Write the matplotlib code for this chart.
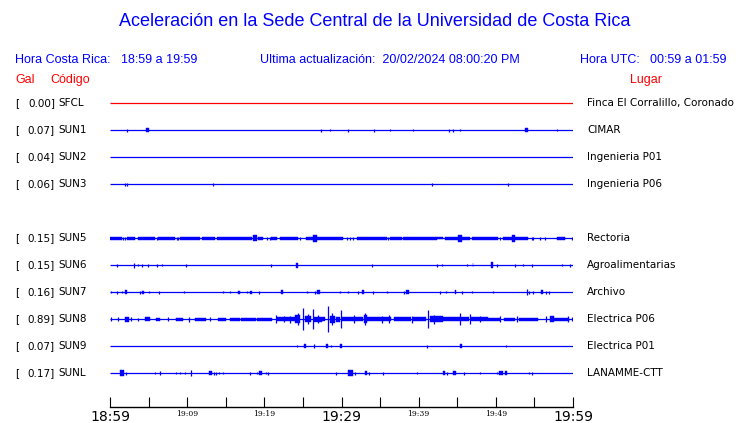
import matplotlib.pyplot as plt

# estaciones (fila 4 = SUN4, sin dato)
codigos = ["SFCL", "SUN1", "SUN2", "SUN3", "SUN5", "SUN6", "SUN7", "SUN8", "SUN9", "SUNL"]
gal = [0.00, 0.07, 0.04, 0.06, 0.15, 0.15, 0.16, 0.89, 0.07, 0.17]
lugares = ["Finca El Corralillo, Coronado", "CIMAR", "Ingenieria P01", "Ingenieria P06",
           "Rectoria", "Agroalimentarias", "Archivo", "Electrica P06", "Electrica P01",
           "LANAMME-CTT"]
fila = [0, 1, 2, 3, 5, 6, 7, 8, 9, 10]
colores = ["red"] + ["blue"] * 9

# minutos desde 18:59 y marcas de hora
minutos_ticks = list(range(0, 61, 5))
etiquetas_hora = {0: "18:59", 10: "19:09", 20: "19:19", 30: "19:29",
                  40: "19:39", 50: "19:49", 60: "19:59"}
horas_grandes = [0, 30, 60]

ev_sfcl = []
ev_sun1 = [(2.2, 2.2, 1.5), (4.7, 5.0, 2), (27.3, 27.3, 1.5), (28.5, 28.5, 1), (30.8, 30.8, 1.5),
           (34.2, 34.2, 1.5), (36.3, 36.3, 1), (39.3, 39.3, 1), (43.9, 43.9, 1.5), (44.4, 44.4, 1.5),
           (45.4, 45.4, 1), (53.8, 54.2, 2), (57.9, 57.9, 1)]
ev_sun2 = []
ev_sun3 = [(1.9, 1.9, 1.5), (2.2, 2.2, 1.5), (13.3, 13.3, 1.5), (41.7, 41.7, 1.5), (51.6, 51.6, 1.5)]
ev_sun5 = [(0.0, 1.5, 1.5), (1.7, 1.7, 1.5), (1.9, 1.9, 1.5), (2.2, 3.2, 1.5), (3.6, 5.8, 1.5),
           (6.1, 6.1, 1.5), (6.2, 8.4, 1.5), (8.7, 8.7, 1.5), (8.8, 8.8, 1.5), (9.1, 11.7, 1.5),
           (11.9, 13.6, 1.5), (13.9, 18.4, 1.5), (18.5, 19.0, 3), (19.2, 19.8, 1.5), (20.3, 20.3, 1.5),
           (20.7, 20.7, 1.5), (20.9, 21.6, 1.5), (22.0, 24.4, 1.5), (24.6, 24.6, 1.5), (25.4, 26.3, 1.5),
           (26.3, 26.8, 3.5), (26.8, 30.2, 1.5), (30.7, 30.7, 1.5), (31.1, 31.1, 1.5), (31.5, 31.5, 1.5),
           (32.0, 35.9, 1.5), (36.0, 36.0, 1.5), (36.3, 37.8, 1.5), (38.0, 42.4, 1.5), (42.4, 43.2, 1.2),
           (43.4, 45.1, 1.5), (45.1, 45.6, 3.5), (45.6, 46.7, 1.5), (46.9, 50.3, 1.5), (50.5, 50.5, 1.5),
           (50.9, 52.1, 1.5), (52.1, 52.5, 3.5), (52.5, 54.2, 1.5), (54.7, 54.7, 1.5), (54.8, 54.8, 1.5),
           (55.7, 55.7, 1.5), (56.4, 56.4, 1.5), (57.9, 59.0, 1.5), (59.9, 59.9, 1.5)]
ev_sun6 = [(0.9, 0.9, 1.5), (3.1, 3.1, 2.5), (3.6, 3.6, 1), (4.1, 4.1, 1.5), (4.9, 4.9, 1.5),
           (6.1, 6.1, 1.5), (6.7, 6.7, 1), (9.8, 9.8, 1.5), (20.9, 20.9, 1.5), (24.1, 24.3, 2.5),
           (34.0, 34.0, 1.5), (42.4, 42.4, 1.5), (43.0, 43.0, 1), (46.3, 46.3, 1), (47.0, 47.1, 2),
           (49.4, 49.6, 3), (50.2, 50.2, 1.5), (52.5, 52.5, 1.5), (53.5, 53.5, 1), (54.7, 54.7, 1.5),
           (58.6, 58.6, 1), (59.6, 59.6, 1.5)]
ev_sun7 = [(0.1, 0.1, 1), (0.9, 0.9, 1.5), (1.5, 1.5, 1), (2.0, 2.2, 2), (3.9, 3.9, 1.5),
           (4.2, 4.4, 1.5), (5.1, 5.1, 1), (6.3, 6.3, 1.5), (9.6, 9.6, 1), (14.6, 14.6, 1),
           (15.6, 15.6, 1), (16.6, 16.8, 1.5), (17.8, 17.8, 1), (18.2, 18.4, 1.5), (19.3, 19.3, 1.5),
           (22.1, 22.4, 2), (25.5, 25.5, 1), (26.6, 26.6, 1.5), (26.8, 27.2, 2), (29.8, 29.8, 1),
           (30.8, 30.8, 1), (32.1, 32.1, 1.5), (32.7, 32.9, 2), (34.1, 34.1, 1.5), (35.9, 35.9, 1),
           (38.1, 38.1, 1.5), (38.4, 38.7, 2), (42.8, 42.8, 1.5), (43.5, 43.5, 1), (44.7, 44.9, 2),
           (45.6, 45.6, 1.5), (46.9, 46.9, 1), (49.6, 49.6, 1), (54.0, 54.0, 3), (54.3, 54.3, 1.5),
           (54.8, 54.8, 1.5), (55.9, 56.1, 2), (56.5, 56.5, 1.5), (56.9, 56.9, 1.5)]
ev_sun8 = [(0.1, 0.1, 2), (1.0, 1.0, 2), (1.9, 2.4, 2.5), (2.7, 2.7, 2), (3.6, 3.6, 1.5),
           (4.5, 5.2, 2), (6.0, 6.5, 1.5), (7.5, 7.5, 2), (8.5, 9.5, 1.5), (10.2, 10.2, 2.5),
           (11.0, 12.5, 1.5), (13.0, 13.0, 2), (14.0, 15.0, 1.5), (15.6, 16.9, 1.5), (17.0, 18.9, 1.5),
           (19.0, 21.0, 1.5), (21.5, 21.5, 4), (21.7, 24.0, 2), (22.6, 22.6, 3), (23.3, 23.3, 3.5),
           (24.0, 24.6, 4), (24.3, 24.3, 6), (25.0, 25.0, 11), (25.3, 26.0, 3), (25.6, 25.6, 5),
           (26.3, 26.3, 10), (26.5, 27.5, 2.5), (26.9, 26.9, 4), (27.5, 27.9, 2), (28.3, 28.3, 13),
           (28.5, 29.2, 3.5), (28.8, 28.8, 6), (29.3, 29.8, 2.5), (29.9, 29.9, 9), (30.0, 32.0, 1.8),
           (31.6, 31.6, 4), (32.0, 32.8, 2.2), (32.9, 33.3, 4), (33.1, 33.1, 6), (33.3, 34.7, 2),
           (34.7, 36.4, 2.2), (35.3, 35.3, 3.5), (36.2, 36.2, 4), (36.8, 39.0, 1.8), (39.2, 39.2, 3.5),
           (39.3, 41.0, 1.8), (41.2, 41.2, 9), (41.5, 43.2, 3), (42.0, 42.0, 4.5), (43.2, 45.5, 2.2),
           (45.3, 45.3, 6), (45.5, 46.5, 1.8), (46.6, 46.6, 5), (46.8, 49.0, 1.8), (48.0, 48.0, 3),
           (49.0, 50.5, 1.5), (50.5, 50.5, 3), (51.0, 52.5, 1.5), (52.7, 52.7, 3), (53.0, 55.5, 1.5),
           (56.5, 56.5, 3), (57.0, 57.5, 3), (57.5, 59.5, 1.5), (59.3, 59.3, 3), (59.9, 59.9, 2)]
ev_sun9 = [(24.2, 24.2, 1), (25.2, 25.4, 2), (26.4, 26.4, 2), (28.0, 28.2, 2), (28.6, 28.6, 1),
           (29.8, 30.0, 2), (41.1, 41.1, 1.5), (45.4, 45.6, 2), (51.3, 51.3, 1)]
ev_sunl = [(1.3, 1.8, 3), (2.1, 2.1, 1.5), (5.8, 5.8, 1), (6.5, 6.5, 2), (8.6, 8.6, 1),
           (9.1, 9.1, 1), (9.7, 9.7, 1), (10.5, 10.5, 3), (12.8, 13.2, 2), (13.5, 13.5, 1.5),
           (13.7, 13.7, 1.5), (14.1, 14.1, 1), (14.6, 14.6, 1), (18.1, 18.1, 1.5), (19.0, 19.0, 1),
           (19.3, 19.7, 2), (20.2, 20.2, 1), (20.5, 20.5, 1.5), (29.3, 29.3, 1.5), (30.8, 31.5, 3),
           (31.7, 31.7, 1.5), (33.1, 33.3, 2), (33.6, 33.6, 1.5), (35.4, 35.4, 1.5), (39.8, 39.8, 1),
           (43.2, 43.4, 2), (43.7, 43.7, 1.5), (44.5, 44.8, 2), (45.9, 45.9, 1.5), (47.9, 47.9, 1),
           (50.2, 50.2, 1), (50.4, 50.9, 2), (51.2, 51.5, 2), (54.3, 54.3, 1), (54.7, 54.7, 1.5)]
eventos = [ev_sfcl, ev_sun1, ev_sun2, ev_sun3, ev_sun5, ev_sun6, ev_sun7, ev_sun8, ev_sun9, ev_sunl]

W, H = 740, 423
fig = plt.figure(figsize=(W / 100, H / 100), dpi=100)


def px(x, y):
    return x / W, 1 - y / H


azul = "#0000ff"
rojo = "#ff0000"
hdr = dict(family="Liberation Sans", fontsize=9, va="center")

fig.text(*px(375, 21), "Aceleración en la Sede Central de la Universidad de Costa Rica",
         family="Liberation Sans", fontsize=13, color=azul, ha="center", va="center")
fig.text(*px(15, 60), "Hora Costa Rica:", color=azul, **hdr)
fig.text(*px(121, 60), "18:59 a 19:59", color=azul, **hdr)
fig.text(*px(260, 60), "Ultima actualización:  20/02/2024 08:00:20 PM", color=azul, **hdr)
fig.text(*px(580, 60), "Hora UTC:", color=azul, **hdr)
fig.text(*px(650, 60), "00:59 a 01:59", color=azul, **hdr)
fig.text(*px(15, 80), "Gal", color=rojo, **hdr)
fig.text(*px(50, 80), "Código", color=rojo, **hdr)
fig.text(*px(630, 80), "Lugar", color=rojo, **hdr)

ax = fig.add_axes([110 / W, (H - 407) / H, 463 / W, (407 - 90) / H])
ax.set_xlim(0, 60)
ax.set_ylim(407, 90)
ax.patch.set_visible(False)
for s in ["top", "left", "right"]:
    ax.spines[s].set_visible(False)
ax.spines["bottom"].set_linewidth(1)
ax.set_yticks([])
ax.set_xticks(minutos_ticks)
ax.set_xticklabels([etiquetas_hora.get(m, "") for m in minutos_ticks])
ax.tick_params(axis="x", direction="in", length=7, width=0.8, pad=2)
for m, lab in zip(minutos_ticks, ax.get_xticklabels()):
    if m in horas_grandes:
        lab.set_fontsize(10)
    else:
        lab.set_fontsize(5.5)
        lab.set_family("DejaVu Serif")

lbl = dict(family="DejaVu Sans", fontsize=7.5, va="center")
for i in range(len(codigos)):
    y = 103 + 27 * fila[i]
    c = colores[i]
    ax.hlines(y, 0, 60, color=c, lw=0.9)
    for t0, t1, a in eventos[i]:
        if t1 > t0:
            ax.fill_between([t0, t1], y - a, y + a, color=c, lw=0.3)
        else:
            ax.vlines(t0, y - a, y + a, color=c, lw=0.9)
    fig.text(*px(15, y), "[", **lbl)
    fig.text(*px(55, y), f"{gal[i]:.2f}]", ha="right", **lbl)
    fig.text(*px(58, y), codigos[i], **lbl)
    fig.text(*px(587, y), lugares[i], **lbl)

fig.savefig("out.png", dpi=100)
